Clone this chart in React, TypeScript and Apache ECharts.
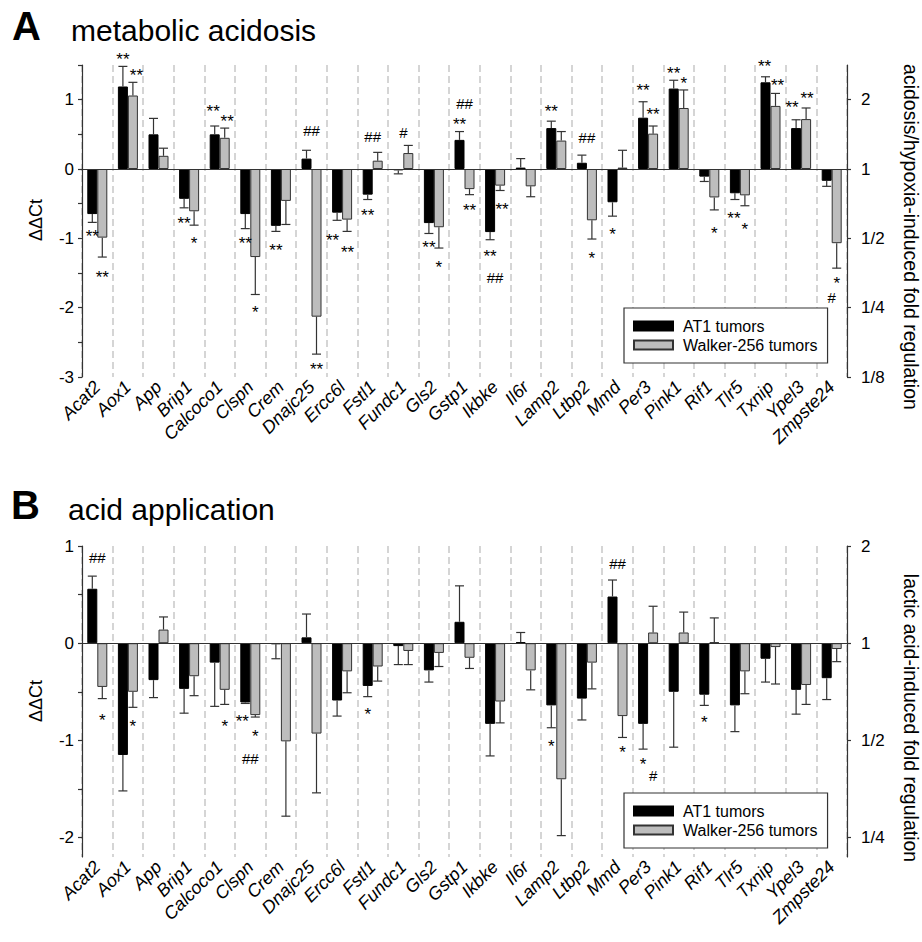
import React, { useEffect, useRef } from "react";
import * as echarts from "echarts";

const FONT = "'Liberation Sans', Arial, Helvetica, sans-serif";

const genes = ["Acat2", "Aox1", "App", "Brip1", "Calcoco1", "Clspn", "Crem", "Dnajc25", "Ercc6l", "Fstl1", "Fundc1", "Gls2", "Gstp1", "Ikbke", "Il6r", "Lamp2", "Ltbp2", "Mmd", "Per3", "Pink1", "Rif1", "Tlr5", "Txnip", "Ypel3", "Zmpste24"];
const seriesNames = ["AT1 tumors", "Walker-256 tumors"];

// Panel A: metabolic acidosis (ΔΔCt, SEM)
const acidosisAT1 = [-0.65, 1.19, 0.50, -0.43, 0.50, -0.65, -0.82, 0.15, -0.63, -0.37, -0.02, -0.78, 0.42, -0.91, 0.02, 0.59, 0.09, -0.48, 0.74, 1.16, -0.11, -0.35, 1.25, 0.59, -0.17];
const acidosisAT1Err = [0.12, 0.29, 0.23, 0.13, 0.12, 0.21, 0.08, 0.12, 0.11, 0.07, 0.05, 0.15, 0.12, 0.11, 0.13, 0.10, 0.11, 0.20, 0.23, 0.12, 0.07, 0.09, 0.08, 0.12, 0.08];
const acidosisW256 = [-0.99, 1.06, 0.19, -0.61, 0.45, -1.27, -0.46, -2.13, -0.73, 0.12, 0.23, -0.84, -0.29, -0.24, -0.25, 0.41, -0.74, 0.02, 0.51, 0.88, -0.41, -0.38, 0.91, 0.72, -1.07];
const acidosisW256Err = [0.28, 0.19, 0.11, 0.20, 0.14, 0.54, 0.34, 0.54, 0.17, 0.12, 0.11, 0.30, 0.08, 0.07, 0.15, 0.13, 0.27, 0.25, 0.11, 0.26, 0.18, 0.15, 0.18, 0.16, 0.36];

// Panel B: acid application
const acidAT1 = [0.56, -1.15, -0.38, -0.47, -0.20, -0.61, -0.01, 0.06, -0.59, -0.44, -0.03, -0.28, 0.22, -0.83, 0.01, -0.64, -0.57, 0.48, -0.83, -0.50, -0.53, -0.64, -0.16, -0.48, -0.36];
const acidAT1Err = [0.13, 0.37, 0.18, 0.25, 0.45, 0.01, 0.15, 0.24, 0.16, 0.11, 0.19, 0.12, 0.37, 0.33, 0.10, 0.23, 0.22, 0.17, 0.26, 0.57, 0.11, 0.27, 0.24, 0.25, 0.22];
const acidW256 = [-0.45, -0.50, 0.14, -0.34, -0.48, -0.74, -1.01, -0.93, -0.29, -0.24, -0.08, -0.10, -0.15, -0.60, -0.28, -1.40, -0.20, -0.75, 0.11, 0.11, 0.01, -0.29, -0.04, -0.43, -0.06];
const acidW256Err = [0.12, 0.16, 0.13, 0.20, 0.15, 0.02, 0.77, 0.61, 0.22, 0.15, 0.14, 0.14, 0.11, 0.22, 0.20, 0.58, 0.27, 0.22, 0.27, 0.21, 0.25, 0.23, 0.38, 0.20, 0.13];

// significance marks: [gene, bar side (-1 AT1, 1 Walker, 0 centre), ΔΔCt position, text]
const marksA: [string, number, number, string][] = [
  ["Acat2", -1, -0.92, "**"], ["Acat2", 1, -1.5, "**"],
  ["Aox1", -1, 1.63, "**"], ["Aox1", 1.7, 1.41, "**"],
  ["Brip1", -1, -0.73, "**"], ["Brip1", 1, -1.01, "*"],
  ["Calcoco1", -1.3, 0.89, "**"], ["Calcoco1", 1.5, 0.74, "**"],
  ["Clspn", -1, -1.02, "**"], ["Clspn", 1, -2.01, "*"],
  ["Crem", -1, -1.12, "**"],
  ["Dnajc25", 0, 0.56, "##"], ["Dnajc25", 1, -2.84, "**"],
  ["Ercc6l", -1.9, -0.98, "**"], ["Ercc6l", 1.1, -1.14, "**"],
  ["Fstl1", -1, -0.62, "**"], ["Fstl1", 0, 0.47, "##"],
  ["Fundc1", 0, 0.53, "#"],
  ["Gls2", -1, -1.08, "**"], ["Gls2", 1, -1.37, "*"],
  ["Gstp1", 0, 0.95, "##"], ["Gstp1", -1, 0.7, "**"], ["Gstp1", 1, -0.54, "**"],
  ["Ikbke", 1.4, -0.52, "**"], ["Ikbke", -1, -1.2, "**"], ["Ikbke", 0, -1.56, "##"],
  ["Lamp2", -1, 0.89, "**"],
  ["Ltbp2", 0, 0.46, "##"], ["Ltbp2", 1, -1.24, "*"],
  ["Mmd", -1, -0.88, "*"],
  ["Per3", -1, 1.19, "**"], ["Per3", 1, 0.85, "**"],
  ["Pink1", -1, 1.44, "**"], ["Pink1", 1, 1.29, "*"],
  ["Rif1", 1, -0.87, "*"],
  ["Tlr5", -1.2, -0.65, "**"], ["Tlr5", 1, -0.81, "*"],
  ["Txnip", -1.2, 1.54, "**"], ["Txnip", 1.4, 1.26, "**"],
  ["Ypel3", -1.8, 0.94, "**"], ["Ypel3", 1.2, 1.08, "**"],
  ["Zmpste24", 1, -1.59, "*"], ["Zmpste24", 0, -1.85, "#"],
];
const marksB: [string, number, number, string][] = [
  ["Acat2", 0, 0.88, "##"], ["Acat2", 1, -0.75, "*"],
  ["Aox1", 1, -0.82, "*"],
  ["Calcoco1", 1, -0.82, "*"],
  ["Clspn", -1.6, -0.76, "**"], ["Clspn", 1, -0.92, "*"], ["Clspn", 0, -1.19, "##"],
  ["Fstl1", -1, -0.69, "*"],
  ["Lamp2", -1, -1.02, "*"],
  ["Mmd", 0, 0.82, "##"], ["Mmd", 1, -1.08, "*"],
  ["Per3", -1, -1.21, "*"], ["Per3", 1, -1.36, "#"],
  ["Rif1", -1, -0.77, "*"],
];

const ticksA = [-3, -2.5, -2, -1.5, -1, -0.5, 0, 0.5, 1, 1.5];
const labelsA = [-3, -2, -1, 0, 1];
const ticksB = [-2, -1.5, -1, -0.5, 0, 0.5, 1];
const labelsB = [-2, -1, 0, 1];
const foldLabels: Record<string, string> = { "1": "2", "0": "1", "-1": "1/2", "-2": "1/4", "-3": "1/8" };

const BAR_W = 10;
const AX = "#333";

function errorSeries(xi: number, vals: number[], errs: number[], offset: number) {
  return {
    type: "custom",
    xAxisIndex: xi,
    yAxisIndex: xi * 2,
    z: 5,
    silent: true,
    data: vals.map((v, i) => [i, v, errs[i]]),
    renderItem: (params: any, api: any) => {
      const i = api.value(0);
      const v = api.value(1);
      const e = api.value(2);
      const s = v < 0 ? -1 : 1;
      const p0 = api.coord([i, v]);
      const p1 = api.coord([i, v + s * e]);
      const x = p0[0] + offset;
      const st = { stroke: AX, lineWidth: 1.2 };
      return {
        type: "group",
        children: [
          { type: "line", shape: { x1: x, y1: p0[1], x2: x, y2: p1[1] }, style: st },
          { type: "line", shape: { x1: x - 4.5, y1: p1[1], x2: x + 4.5, y2: p1[1] }, style: st },
        ],
      };
    },
  };
}

function markSeries(xi: number, marks: [string, number, number, string][]) {
  return {
    type: "custom",
    xAxisIndex: xi,
    yAxisIndex: xi * 2,
    z: 6,
    silent: true,
    clip: false,
    data: marks.map((m) => [genes.indexOf(m[0]), m[2]]),
    renderItem: (params: any, api: any) => {
      const m = marks[params.dataIndex];
      const p = api.coord([genes.indexOf(m[0]), m[2]]);
      const isStar = m[3].indexOf("*") >= 0;
      return {
        type: "text",
        x: p[0] + m[1] * (BAR_W / 2),
        y: p[1] + (isStar ? 4 : 0),
        style: {
          text: m[3],
          fill: "#000",
          fontSize: isStar ? 17 : 15,
          lineHeight: 12,
          fontFamily: FONT,
          align: "center",
          verticalAlign: "middle",
        },
      };
    },
  };
}

function barSeries(xi: number, name: string, vals: number[], black: boolean) {
  return {
    type: "bar",
    name,
    xAxisIndex: xi,
    yAxisIndex: xi * 2,
    barWidth: BAR_W,
    barGap: "0%",
    data: vals,
    itemStyle: black
      ? { color: "#000", borderColor: "#000", borderWidth: 1 }
      : { color: "#bdbdbd", borderColor: "#333", borderWidth: 1 },
    markLine: black
      ? {
          silent: true,
          symbol: ["none", "none"],
          label: { show: false },
          lineStyle: { color: AX, width: 1.2, type: "solid" },
          data: [{ yAxis: 0 }],
        }
      : undefined,
  };
}

function xAxis(gi: number) {
  return {
    gridIndex: gi,
    type: "category",
    data: genes,
    axisLine: { lineStyle: { color: AX, width: 1.2 } },
    axisTick: { alignWithLabel: true, length: 5, lineStyle: { color: AX, width: 1.2 } },
    axisLabel: { rotate: 45, interval: 0, fontStyle: "italic", fontSize: 18, color: "#000", fontFamily: FONT, margin: 7 },
    splitLine: { show: true, interval: 0, lineStyle: { type: [7, 4], color: "#c8c8c8", width: 1.5 } },
  };
}

function yAxes(gi: number, min: number, max: number, ticks: number[], labels: number[]) {
  return [
    {
      gridIndex: gi,
      type: "value",
      min,
      max,
      axisLine: { show: true, lineStyle: { color: AX, width: 1.2 } },
      axisTick: { show: true, customValues: ticks, length: 4, lineStyle: { color: AX, width: 1.2 } },
      axisLabel: { customValues: labels, fontSize: 17, color: "#000", fontFamily: FONT, margin: 8, formatter: (v: number) => String(Math.round(v)) },
      splitLine: { show: false },
    },
    {
      gridIndex: gi,
      type: "value",
      position: "right",
      min,
      max,
      axisLine: { show: true, lineStyle: { color: AX, width: 1.2 } },
      axisTick: { show: true, customValues: labels, length: 4, lineStyle: { color: AX, width: 1.2 } },
      axisLabel: {
        customValues: labels,
        fontSize: 17,
        color: "#000",
        fontFamily: FONT,
        margin: 14,
        formatter: (v: number) => foldLabels[String(Math.round(v))] ?? "",
      },
      splitLine: { show: false },
    },
  ];
}

function legend(top: number) {
  return {
    data: seriesNames,
    orient: "vertical",
    left: 624,
    top,
    icon: "rect",
    itemWidth: 39,
    itemHeight: 9,
    itemGap: 3,
    padding: [10, 10, 10, 9],
    borderColor: AX,
    borderWidth: 1.2,
    backgroundColor: "#fff",
    selectedMode: false,
    textStyle: { fontSize: 16, color: "#000", fontFamily: FONT, lineHeight: 16, padding: [0, 0, 0, 5] },
  };
}

function txt(x: number, y: number, text: string, size: number, opts: any = {}) {
  return {
    type: "text",
    x,
    y,
    rotation: opts.rotation ?? 0,
    style: {
      text,
      fontSize: size,
      fontWeight: opts.bold ? "bold" : "normal",
      fontFamily: FONT,
      fill: "#000",
      align: opts.align ?? "left",
      verticalAlign: "middle",
    },
  };
}

export default function App() {
  const ref = useRef<HTMLDivElement>(null);
  useEffect(() => {
    if (!ref.current) return;
    const chart = echarts.init(ref.current, undefined, { renderer: "svg" });
    const option: any = {
      animation: false,
      backgroundColor: "#fff",
      textStyle: { fontFamily: FONT },
      grid: [
        { left: 82, right: 75, top: 65, height: 312 },
        { left: 82, right: 75, top: 546, height: 311 },
      ],
      xAxis: [xAxis(0), xAxis(1)],
      yAxis: [...yAxes(0, -3, 1.5, ticksA, labelsA), ...yAxes(1, -2.2, 1, ticksB, labelsB)],
      legend: [legend(308), legend(793)],
      series: [
        barSeries(0, seriesNames[0], acidosisAT1, true),
        barSeries(0, seriesNames[1], acidosisW256, false),
        errorSeries(0, acidosisAT1, acidosisAT1Err, -BAR_W / 2),
        errorSeries(0, acidosisW256, acidosisW256Err, BAR_W / 2),
        markSeries(0, marksA),
        barSeries(1, seriesNames[0], acidAT1, true),
        barSeries(1, seriesNames[1], acidW256, false),
        errorSeries(1, acidAT1, acidAT1Err, -BAR_W / 2),
        errorSeries(1, acidW256, acidW256Err, BAR_W / 2),
        markSeries(1, marksB),
      ],
      graphic: [
        txt(12, 26, "A", 40, { bold: true }),
        txt(71, 30, "metabolic acidosis", 30),
        txt(11, 505, "B", 40, { bold: true }),
        txt(68, 509, "acid application", 30),
        txt(36, 220, "ΔΔCt", 18, { rotation: Math.PI / 2, align: "center" }),
        txt(36, 701, "ΔΔCt", 18, { rotation: Math.PI / 2, align: "center" }),
        txt(911, 237, "acidosis/hypoxia-induced fold regulation", 19.5, { rotation: -Math.PI / 2, align: "center" }),
        txt(911, 718, "lactic acid-induced fold regulation", 19.5, { rotation: -Math.PI / 2, align: "center" }),
      ],
    };
    chart.setOption(option);
    return () => chart.dispose();
  }, []);
  return <div ref={ref} style={{ position: "fixed", left: 0, top: 0, width: 922, height: 942 }} />;
}
